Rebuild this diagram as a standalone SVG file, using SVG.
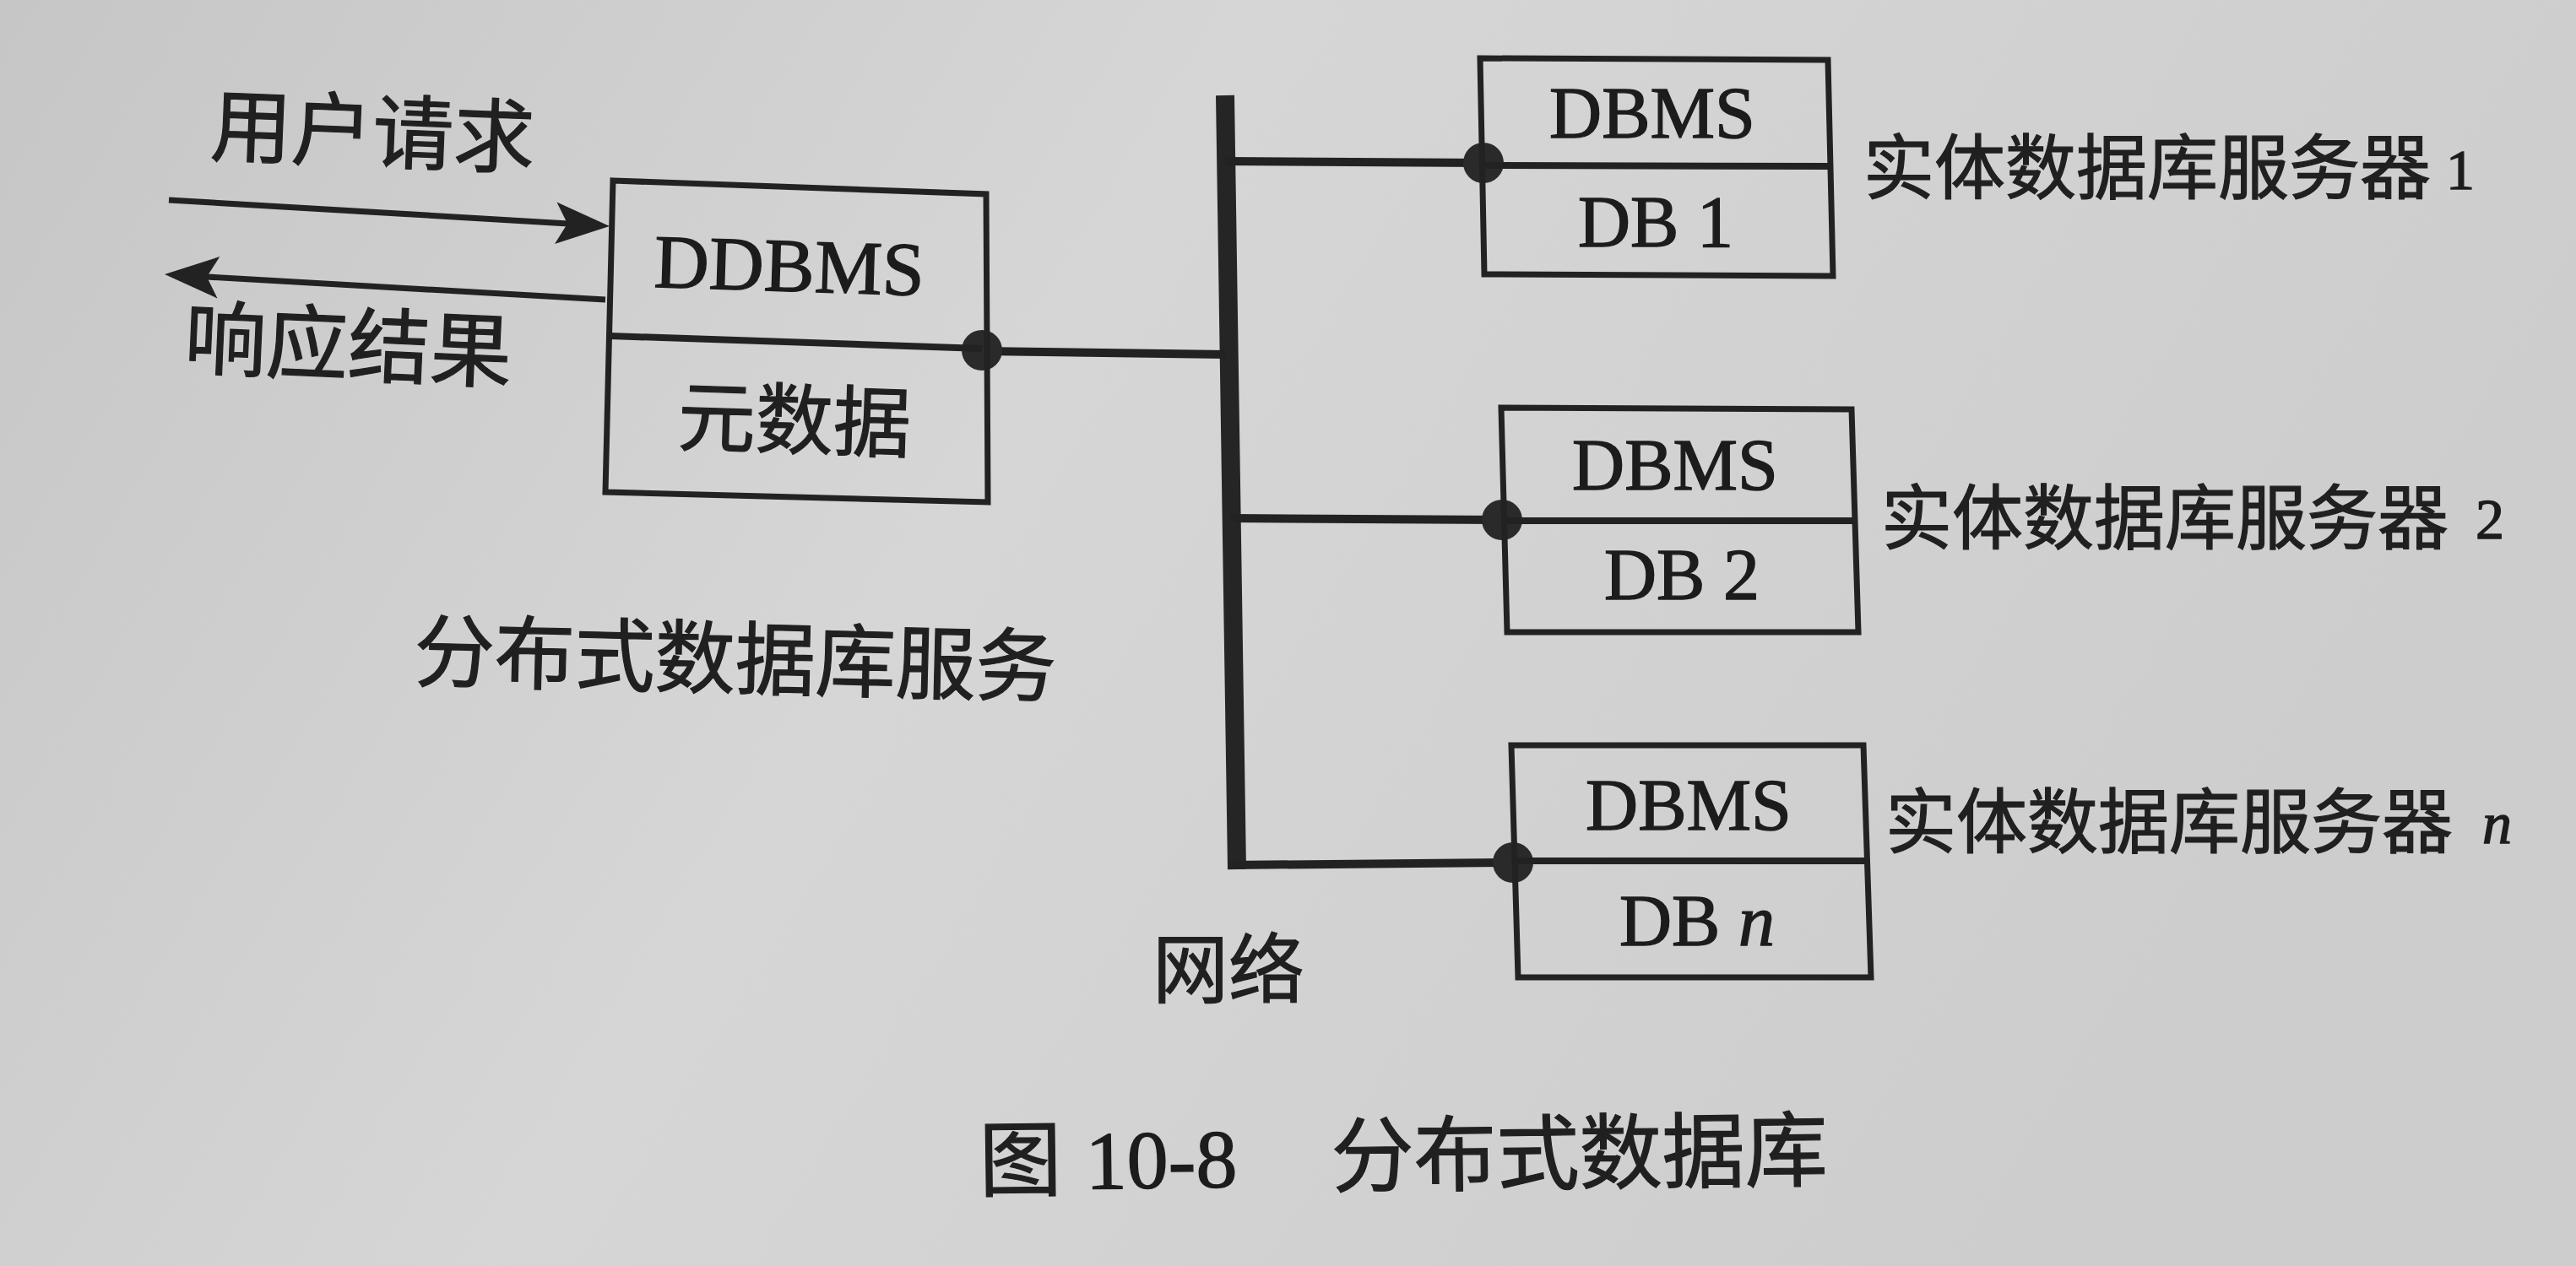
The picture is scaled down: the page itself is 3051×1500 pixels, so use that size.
<svg xmlns="http://www.w3.org/2000/svg" width="3051" height="1500" viewBox="0 0 3051 1500">
  <defs>
    <linearGradient id="paper" x1="0" y1="0" x2="1" y2="0.3">
      <stop offset="0" stop-color="#c6c6c6"/>
      <stop offset="0.45" stop-color="#d6d6d6"/>
      <stop offset="1" stop-color="#cdcdcd"/>
    </linearGradient>
    <style>
      .box { fill: none; stroke: #222; stroke-width: 7; stroke-linejoin: miter; }
      .div { stroke: #222; stroke-width: 8; fill: none; }
      .wire { stroke: #222; stroke-width: 10; fill: none; }
      .bus { stroke: #252525; stroke-width: 22; fill: none; stroke-linecap: butt; }
      .shaft { stroke: #222; stroke-width: 7; fill: none; }
      .head { fill: #222; stroke: none; }
      .dot { fill: #2a2a2a; }
      .cjk { font-family: "Noto Sans CJK SC", "Noto Sans CJK TC", sans-serif; fill: #202020; stroke: #202020; stroke-width: 1.2; }
      .lat { font-family: "Liberation Serif", "Noto Sans CJK SC", serif; fill: #1c1c1c; stroke: #1c1c1c; stroke-width: 1.4; }
    </style>
  </defs>

  <rect x="0" y="0" width="3051" height="1500" fill="url(#paper)"/>

  <!-- connectors -->
  <g id="connectors">
    <!-- user request arrow -->
    <line class="shaft" x1="200" y1="237" x2="673" y2="265"/>
    <polygon class="head" points="722,268 657,289 672,265 659.5,239.5"/>
    <!-- response arrow -->
    <line class="shaft" x1="245" y1="328" x2="717" y2="355"/>
    <polygon class="head" points="195,325 260.3,304 245,328 257.5,353.5"/>
    <!-- network bus -->
    <line class="bus" x1="1451" y1="113" x2="1465" y2="1030"/>
    <!-- links -->
    <line class="wire" x1="1163" y1="416" x2="1452" y2="420"/>
    <line class="wire" x1="1451" y1="191" x2="1757" y2="193"/>
    <line class="wire" x1="1458" y1="614" x2="1779" y2="616"/>
    <line class="wire" x1="1455" y1="1025" x2="1791" y2="1022"/>
    <!-- junction dots -->
    <circle class="dot" cx="1163" cy="415" r="24"/>
    <circle class="dot" cx="1757" cy="193" r="24"/>
    <circle class="dot" cx="1779" cy="616" r="24"/>
    <circle class="dot" cx="1792" cy="1022" r="24"/>
  </g>

  <!-- DDBMS node -->
  <g id="node-ddbms">
    <polygon class="box" points="726,214 1168,230 1170,595 717,583"/>
    <line class="div" x1="722" y1="398" x2="1163" y2="413"/>
    <text class="lat" x="934" y="345" font-size="90" text-anchor="middle" transform="rotate(1.8 934 345)">DDBMS</text>
    <text class="cjk" x="940" y="531" font-size="92" text-anchor="middle" transform="rotate(1.8 940 531)">元数据</text>
  </g>

  <!-- server 1 -->
  <g id="node-server1">
    <polygon class="box" points="1753,69 2165,71 2171,327 1758,325"/>
    <line class="div" x1="1757" y1="196" x2="2168" y2="197"/>
    <text class="lat" x="1957" y="163" font-size="86" text-anchor="middle">DBMS</text>
    <text class="lat" x="1961" y="292" font-size="86" text-anchor="middle">DB 1</text>
  </g>

  <!-- server 2 -->
  <g id="node-server2">
    <polygon class="box" points="1778,483 2193,485 2201,749 1785,749"/>
    <line class="div" x1="1781" y1="617" x2="2197" y2="617"/>
    <text class="lat" x="1984" y="580" font-size="86" text-anchor="middle">DBMS</text>
    <text class="lat" x="1992" y="710" font-size="86" text-anchor="middle">DB 2</text>
  </g>

  <!-- server n -->
  <g id="node-servern">
    <polygon class="box" points="1790,883 2207,883 2216,1158 1798,1158"/>
    <line class="div" x1="1793" y1="1020" x2="2211" y2="1020"/>
    <text class="lat" x="2000" y="983" font-size="86" text-anchor="middle">DBMS</text>
    <text class="lat" x="2010" y="1120" font-size="86" text-anchor="middle">DB <tspan font-style="italic">n</tspan></text>
  </g>

  <!-- labels -->
  <g id="labels">
    <text class="cjk" x="440" y="191" font-size="96" text-anchor="middle" transform="rotate(2.3 440 191)">用户请求</text>
    <text class="cjk" x="411" y="444" font-size="97" text-anchor="middle" transform="rotate(2.5 411 444)">响应结果</text>
    <text class="cjk" x="870" y="815" font-size="95" text-anchor="middle" transform="rotate(1.4 870 815)">分布式数据库服务</text>
    <text class="cjk" x="1455" y="1181" font-size="90" text-anchor="middle">网络</text>
    <text class="cjk" x="2207" y="229" font-size="84">实体数据库服务器 <tspan class="lat" x="2897" y="224" font-size="68">1</tspan></text>
    <text class="cjk" x="2228" y="644" font-size="84">实体数据库服务器 <tspan class="lat" x="2932" y="638" font-size="68">2</tspan></text>
    <text class="cjk" x="2233" y="1004" font-size="84">实体数据库服务器 <tspan class="lat" x="2940" y="999" font-size="70" font-style="italic">n</tspan></text>
    <text class="cjk" font-size="98" y="1404" transform="rotate(-0.7 1665 1404)"><tspan x="1160">图</tspan> <tspan class="lat" x="1286">10-8</tspan> <tspan x="1577">分布式数据库</tspan></text>
  </g>
</svg>
